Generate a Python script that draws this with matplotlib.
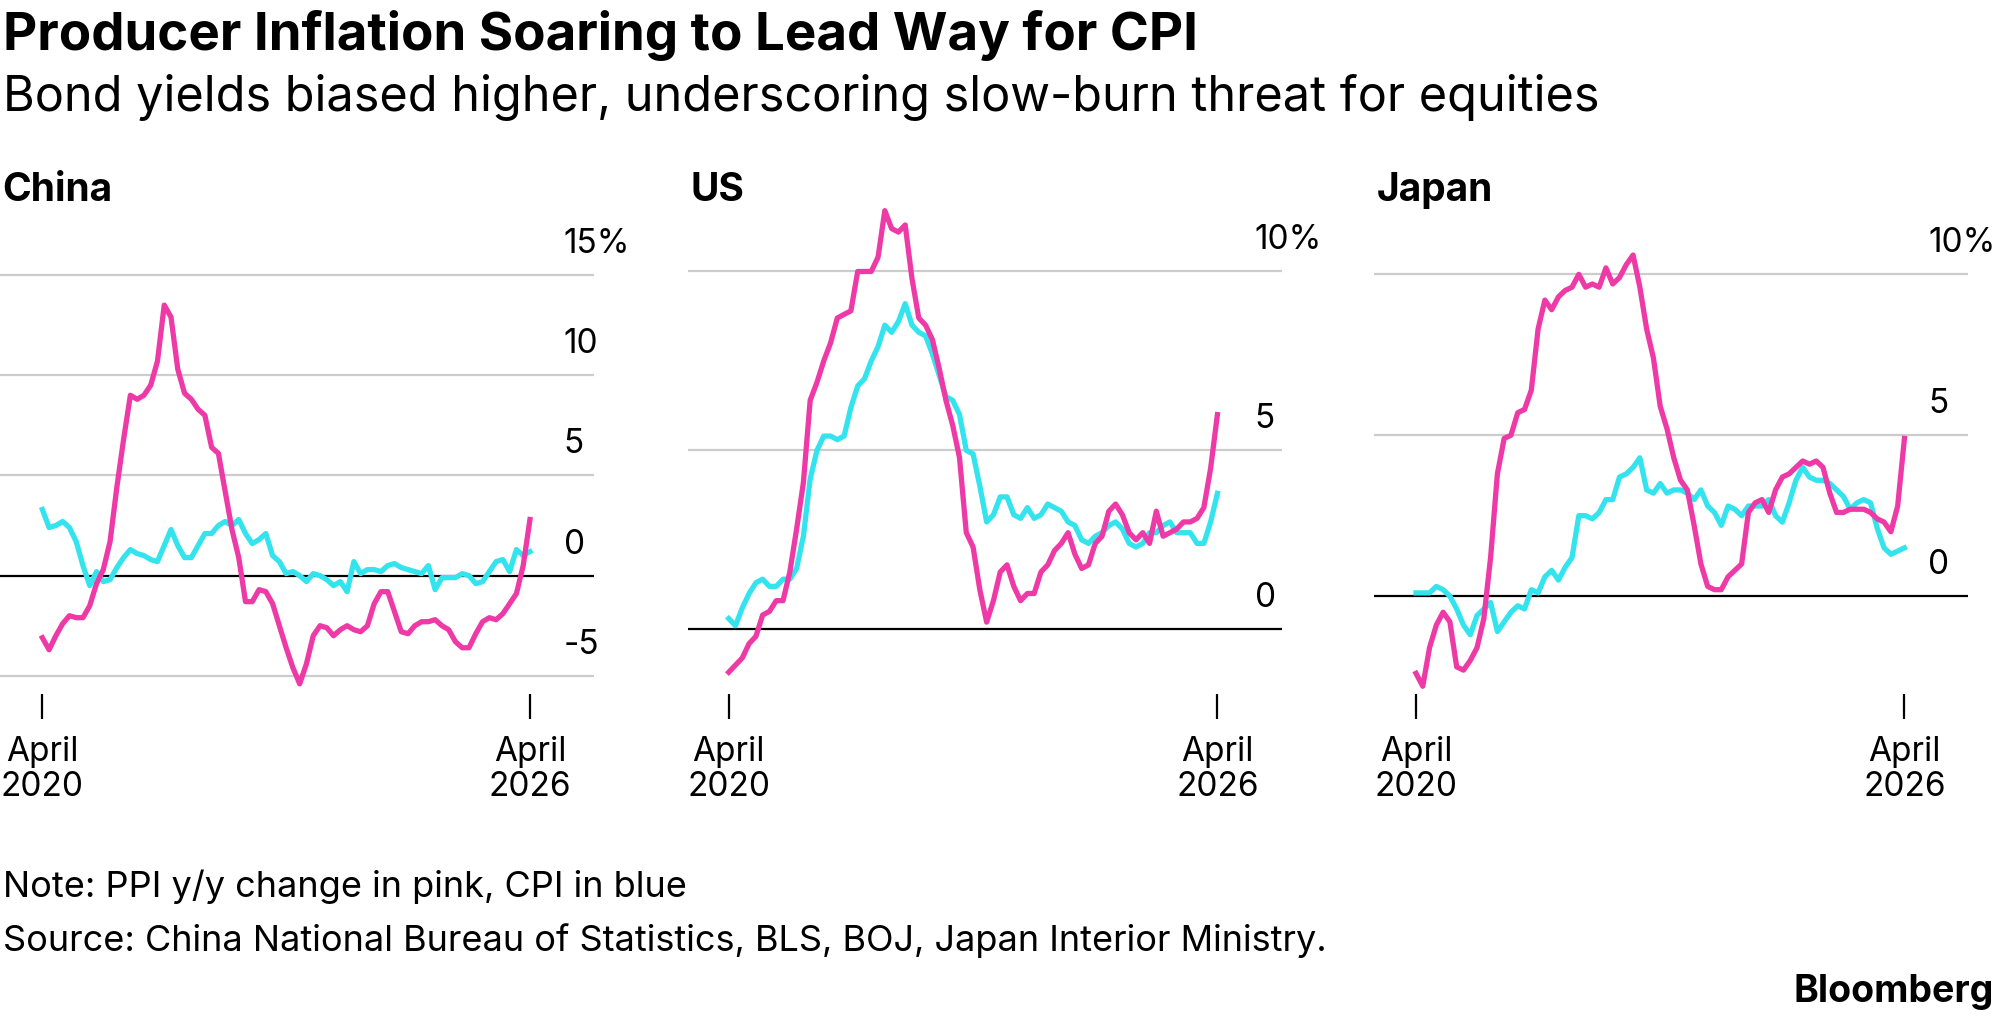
import matplotlib
matplotlib.use("Agg")
import matplotlib.pyplot as plt
import numpy as np

plt.rcParams['font.family'] = ['Inter', 'DejaVu Sans']

PINK = "#ee3aa6"
CYAN = "#33e3ee"

x_labels = ["April\n2020", "April\n2026"]

china_ppi = [-3.1,-3.7,-3.0,-2.4,-2.0,-2.1,-2.1,-1.5,-0.4,0.3,1.7,4.4,6.8,9.0,8.8,9.0,9.5,10.7,13.5,12.9,10.3,
             9.1,8.8,8.3,8.0,6.4,6.1,4.2,2.3,0.9,-1.3,-1.3,-0.7,-0.8,-1.4,-2.5,-3.6,-4.6,-5.4,-4.4,-3.0,-2.5,
             -2.6,-3.0,-2.7,-2.5,-2.7,-2.8,-2.5,-1.4,-0.8,-0.8,-1.8,-2.8,-2.9,-2.5,-2.3,-2.3,-2.2,-2.5,-2.7,
             -3.3,-3.6,-3.6,-2.9,-2.3,-2.1,-2.2,-1.9,-1.4,-0.9,0.5,2.8]
china_cpi = [3.3,2.4,2.5,2.7,2.4,1.7,0.5,-0.5,0.2,-0.3,-0.2,0.4,0.9,1.3,1.1,1.0,0.8,0.7,1.5,2.3,1.5,
             0.9,0.9,1.5,2.1,2.1,2.5,2.7,2.5,2.8,2.1,1.6,1.8,2.1,1.0,0.7,0.1,0.2,0.0,-0.3,0.1,0.0,
             -0.2,-0.5,-0.3,-0.8,0.7,0.1,0.3,0.3,0.2,0.5,0.6,0.4,0.3,0.2,0.1,0.5,-0.7,-0.1,-0.1,
             -0.1,0.1,0.0,-0.4,-0.3,0.2,0.7,0.8,0.2,1.3,1.0,1.2]
us_ppi = [-1.2,-1.0,-0.8,-0.4,-0.2,0.4,0.5,0.8,0.8,1.6,2.8,4.1,6.4,6.9,7.5,8.0,8.7,8.8,8.9,10.0,10.0,
          10.0,10.4,11.7,11.2,11.1,11.3,9.8,8.7,8.5,8.1,7.3,6.4,5.7,4.8,2.7,2.3,1.1,0.2,0.8,1.6,1.8,
          1.2,0.8,1.0,1.0,1.6,1.8,2.2,2.4,2.7,2.1,1.7,1.8,2.4,2.6,3.3,3.5,3.2,2.7,2.5,2.7,2.4,
          3.3,2.6,2.7,2.8,3.0,3.0,3.1,3.4,4.5,6.0]
us_cpi = [0.3,0.1,0.6,1.0,1.3,1.4,1.2,1.2,1.4,1.4,1.7,2.6,4.2,5.0,5.4,5.4,5.3,5.4,6.2,6.8,7.0,
          7.5,7.9,8.5,8.3,8.6,9.1,8.5,8.3,8.2,7.7,7.1,6.5,6.4,6.0,5.0,4.9,4.0,3.0,3.2,3.7,3.7,
          3.2,3.1,3.4,3.1,3.2,3.5,3.4,3.3,3.0,2.9,2.5,2.4,2.6,2.7,2.9,3.0,2.8,2.4,2.3,2.4,2.7,
          2.7,2.9,3.0,2.7,2.7,2.7,2.4,2.4,3.0,3.8]
jp_ppi = [-2.4,-2.8,-1.6,-0.9,-0.5,-0.8,-2.2,-2.3,-2.0,-1.6,-0.7,1.2,3.8,4.9,5.0,5.7,5.8,6.4,8.3,9.2,8.9,
          9.3,9.5,9.6,10.0,9.6,9.7,9.6,10.2,9.7,9.9,10.3,10.6,9.6,8.3,7.4,5.9,5.2,4.3,3.6,3.3,2.2,
          1.0,0.3,0.2,0.2,0.6,0.8,1.0,2.6,2.9,3.0,2.6,3.3,3.7,3.8,4.0,4.2,4.1,4.2,4.0,3.2,2.6,
          2.6,2.7,2.7,2.7,2.6,2.4,2.3,2.0,2.8,4.9]
jp_cpi = [0.1,0.1,0.1,0.3,0.2,0.0,-0.4,-0.9,-1.2,-0.6,-0.4,-0.2,-1.1,-0.8,-0.5,-0.3,-0.4,0.2,0.1,0.6,0.8,
          0.5,0.9,1.2,2.5,2.5,2.4,2.6,3.0,3.0,3.7,3.8,4.0,4.3,3.3,3.2,3.5,3.2,3.3,3.3,3.2,3.0,
          3.3,2.8,2.6,2.2,2.8,2.7,2.5,2.8,2.8,2.8,3.0,2.5,2.3,2.9,3.6,4.0,3.7,3.6,3.6,3.5,3.3,
          3.1,2.7,2.9,3.0,2.9,2.1,1.5,1.3,1.4,1.5]

panels = [
    dict(name="China", ppi=china_ppi, cpi=china_cpi, ticks=[-5, 0, 5, 10, 15], top="15%",
         ylim=(-6.5, 16.0), left=0.0, xlim=(-6.25, 81.5), labx=77.0),
    dict(name="US", ppi=us_ppi, cpi=us_cpi, ticks=[0, 5, 10], top="10%",
         ylim=(-2.14, 10.46), left=538/1568, xlim=(-6.06, 81.5), labx=77.5),
    dict(name="Japan", ppi=jp_ppi, cpi=jp_cpi, ticks=[0, 5, 10], top="10%",
         ylim=(-3.41, 10.6), left=1075/1568, xlim=(-6.2, 81.4), labx=75.5),
]

fig = plt.figure(figsize=(20.04, 10.2), dpi=100)
W = 465/1568
for p in panels:
    ax = fig.add_axes([p["left"], 0.307, W, 0.442])
    ax.set_xlim(*p["xlim"]); ax.set_ylim(*p["ylim"])
    for s in ax.spines.values():
        s.set_visible(False)
    for t in p["ticks"]:
        ax.axhline(t, color="black" if t == 0 else "#cccccc", lw=1.6, zorder=1)
        lab = p["top"] if t == p["ticks"][-1] else str(t)
        off = 1.6 * (p["ylim"][1] - p["ylim"][0]) / 22.5
        ax.text(p["labx"], t + off, lab, fontsize=24, ha="left", va="center")
    ax.set_yticks([])
    ax.plot(np.arange(len(p["cpi"])), p["cpi"], color=CYAN, lw=3.8, zorder=3,
            solid_joinstyle="round", clip_on=False)
    ax.plot(np.arange(len(p["ppi"])), p["ppi"], color=PINK, lw=3.8, zorder=4,
            solid_joinstyle="round", clip_on=False)
    ax.set_xticks([0, 72])
    ax.set_xticklabels(x_labels, fontsize=24, linespacing=1.1)
    ax.tick_params(axis="x", direction="inout", length=18, width=1.6, pad=12)
    fig.text(p["left"] + 2/1568, 0.831, p["name"], fontsize=28, fontweight="bold", va="top", ha="left")

fig.text(3/2004, 0.99, "Producer Inflation Soaring to Lead Way for CPI", fontsize=38, fontweight="bold", va="top")
fig.text(3/2004, 0.927, "Bond yields biased higher, underscoring slow-burn threat for equities", fontsize=35, va="top")
fig.text(3/2004, 0.148, "Note: PPI y/y change in pink, CPI in blue", fontsize=26, va="top")
fig.text(3/2004, 0.095, "Source: China National Bureau of Statistics, BLS, BOJ, Japan Interior Ministry.", fontsize=26, va="top")
fig.text(0.995, 0.045, "Bloomberg", fontsize=27, fontweight="bold", va="top", ha="right")

fig.savefig("out.png", dpi=100)
